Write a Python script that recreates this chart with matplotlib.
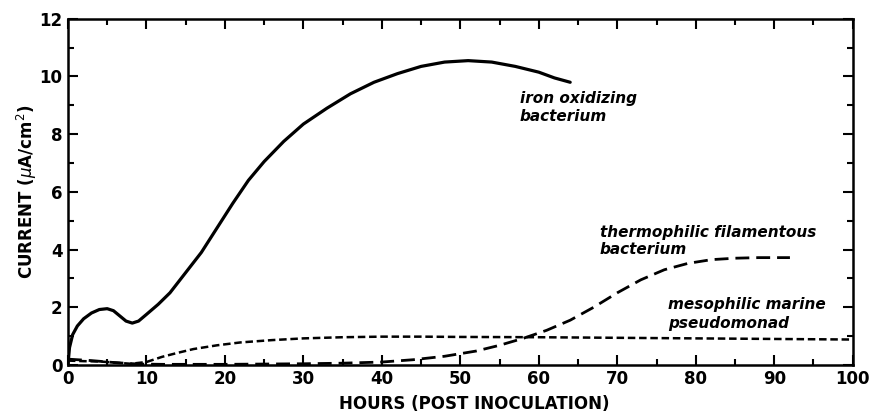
import matplotlib

matplotlib.use("Agg")
import matplotlib.pyplot as plt  # noqa: E402
from matplotlib.ticker import MultipleLocator  # noqa: E402

# iron oxidizing bacterium (solid)
iron_hours = [0, 0.2, 0.6, 1.2, 2, 3, 4, 5, 5.8, 6.6, 7.4, 8.2, 9, 10, 11.5, 13, 15,
              17, 19, 21, 23, 25, 27.5, 30, 33, 36, 39, 42, 45, 48, 51, 54, 57, 60,
              62, 64]
iron_current = [0, 0.6, 1.05, 1.35, 1.6, 1.8, 1.92, 1.95, 1.88, 1.7, 1.52, 1.45, 1.52,
                1.75, 2.1, 2.5, 3.2, 3.9, 4.75, 5.6, 6.4, 7.05, 7.75, 8.35, 8.9, 9.4,
                9.8, 10.1, 10.35, 10.5, 10.55, 10.5, 10.35, 10.15, 9.95, 9.8]

# thermophilic filamentous bacterium (long dashes)
thermo_hours = [0, 3, 6, 9, 12, 16, 20, 25, 30, 35, 40, 44, 48, 52, 55, 58, 61, 64,
                67, 70, 73, 76, 79, 82, 85, 88, 92]
thermo_current = [0.2, 0.15, 0.08, 0.03, 0.02, 0.02, 0.02, 0.03, 0.04, 0.06, 0.1, 0.18,
                  0.3, 0.48, 0.68, 0.92, 1.2, 1.55, 2.0, 2.5, 2.95, 3.3, 3.52, 3.65,
                  3.7, 3.72, 3.72]

# mesophilic marine pseudomonad (short dashes)
meso_hours = [0, 2, 4, 6, 8, 10, 12, 14, 16, 19, 22, 26, 30, 35, 40, 45, 50, 60, 70,
              80, 90, 100]
meso_current = [0.15, 0.13, 0.12, 0.08, 0.04, 0.1, 0.28, 0.42, 0.55, 0.68, 0.78, 0.86,
                0.92, 0.96, 0.98, 0.98, 0.97, 0.96, 0.94, 0.92, 0.9, 0.88]

fig = plt.figure(figsize=(8.71, 4.18), dpi=100)
ax = fig.add_axes([0.078, 0.127, 0.901, 0.828])

ax.plot(iron_hours, iron_current, color="black", linewidth=2.3, solid_capstyle="round")
ax.plot(thermo_hours, thermo_current, color="black", linewidth=2.0,
        linestyle=(0, (5, 2.5)))
ax.plot(meso_hours, meso_current, color="black", linewidth=1.8,
        linestyle=(0, (3, 1.5)))

ax.set_xlim(0, 100)
ax.set_ylim(0, 12)
ax.xaxis.set_major_locator(MultipleLocator(10))
ax.xaxis.set_minor_locator(MultipleLocator(5))
ax.yaxis.set_major_locator(MultipleLocator(2))
ax.yaxis.set_minor_locator(MultipleLocator(1))
ax.tick_params(which="both", direction="in", top=True, right=True, width=1.5)
ax.tick_params(which="major", length=7, labelsize=12, pad=4)
ax.tick_params(which="minor", length=4)
for lab in ax.get_xticklabels() + ax.get_yticklabels():
    lab.set_fontweight("bold")
for sp in ax.spines.values():
    sp.set_linewidth(1.8)

ax.set_xlabel("HOURS (POST INOCULATION)", fontsize=12, fontweight="bold")
ax.xaxis.set_label_coords(0.518, -0.087)
ax.set_ylabel("CURRENT ($\\mu$A/cm$^2$)", fontsize=12, fontweight="bold")
ax.yaxis.set_label_coords(-0.037, 0.5)

note = dict(fontsize=11, fontstyle="italic", fontweight="bold", ha="left", va="center")
ax.text(57.6, 9.25, "iron oxidizing", **note)
ax.text(57.6, 8.6, "bacterium", **note)
ax.text(67.8, 4.6, "thermophilic filamentous", **note)
ax.text(67.8, 4.0, "bacterium", **note)
ax.text(76.5, 2.1, "mesophilic marine", **note)
ax.text(76.5, 1.45, "pseudomonad", **note)

fig.savefig("out.png", dpi=100)
plt.close(fig)
